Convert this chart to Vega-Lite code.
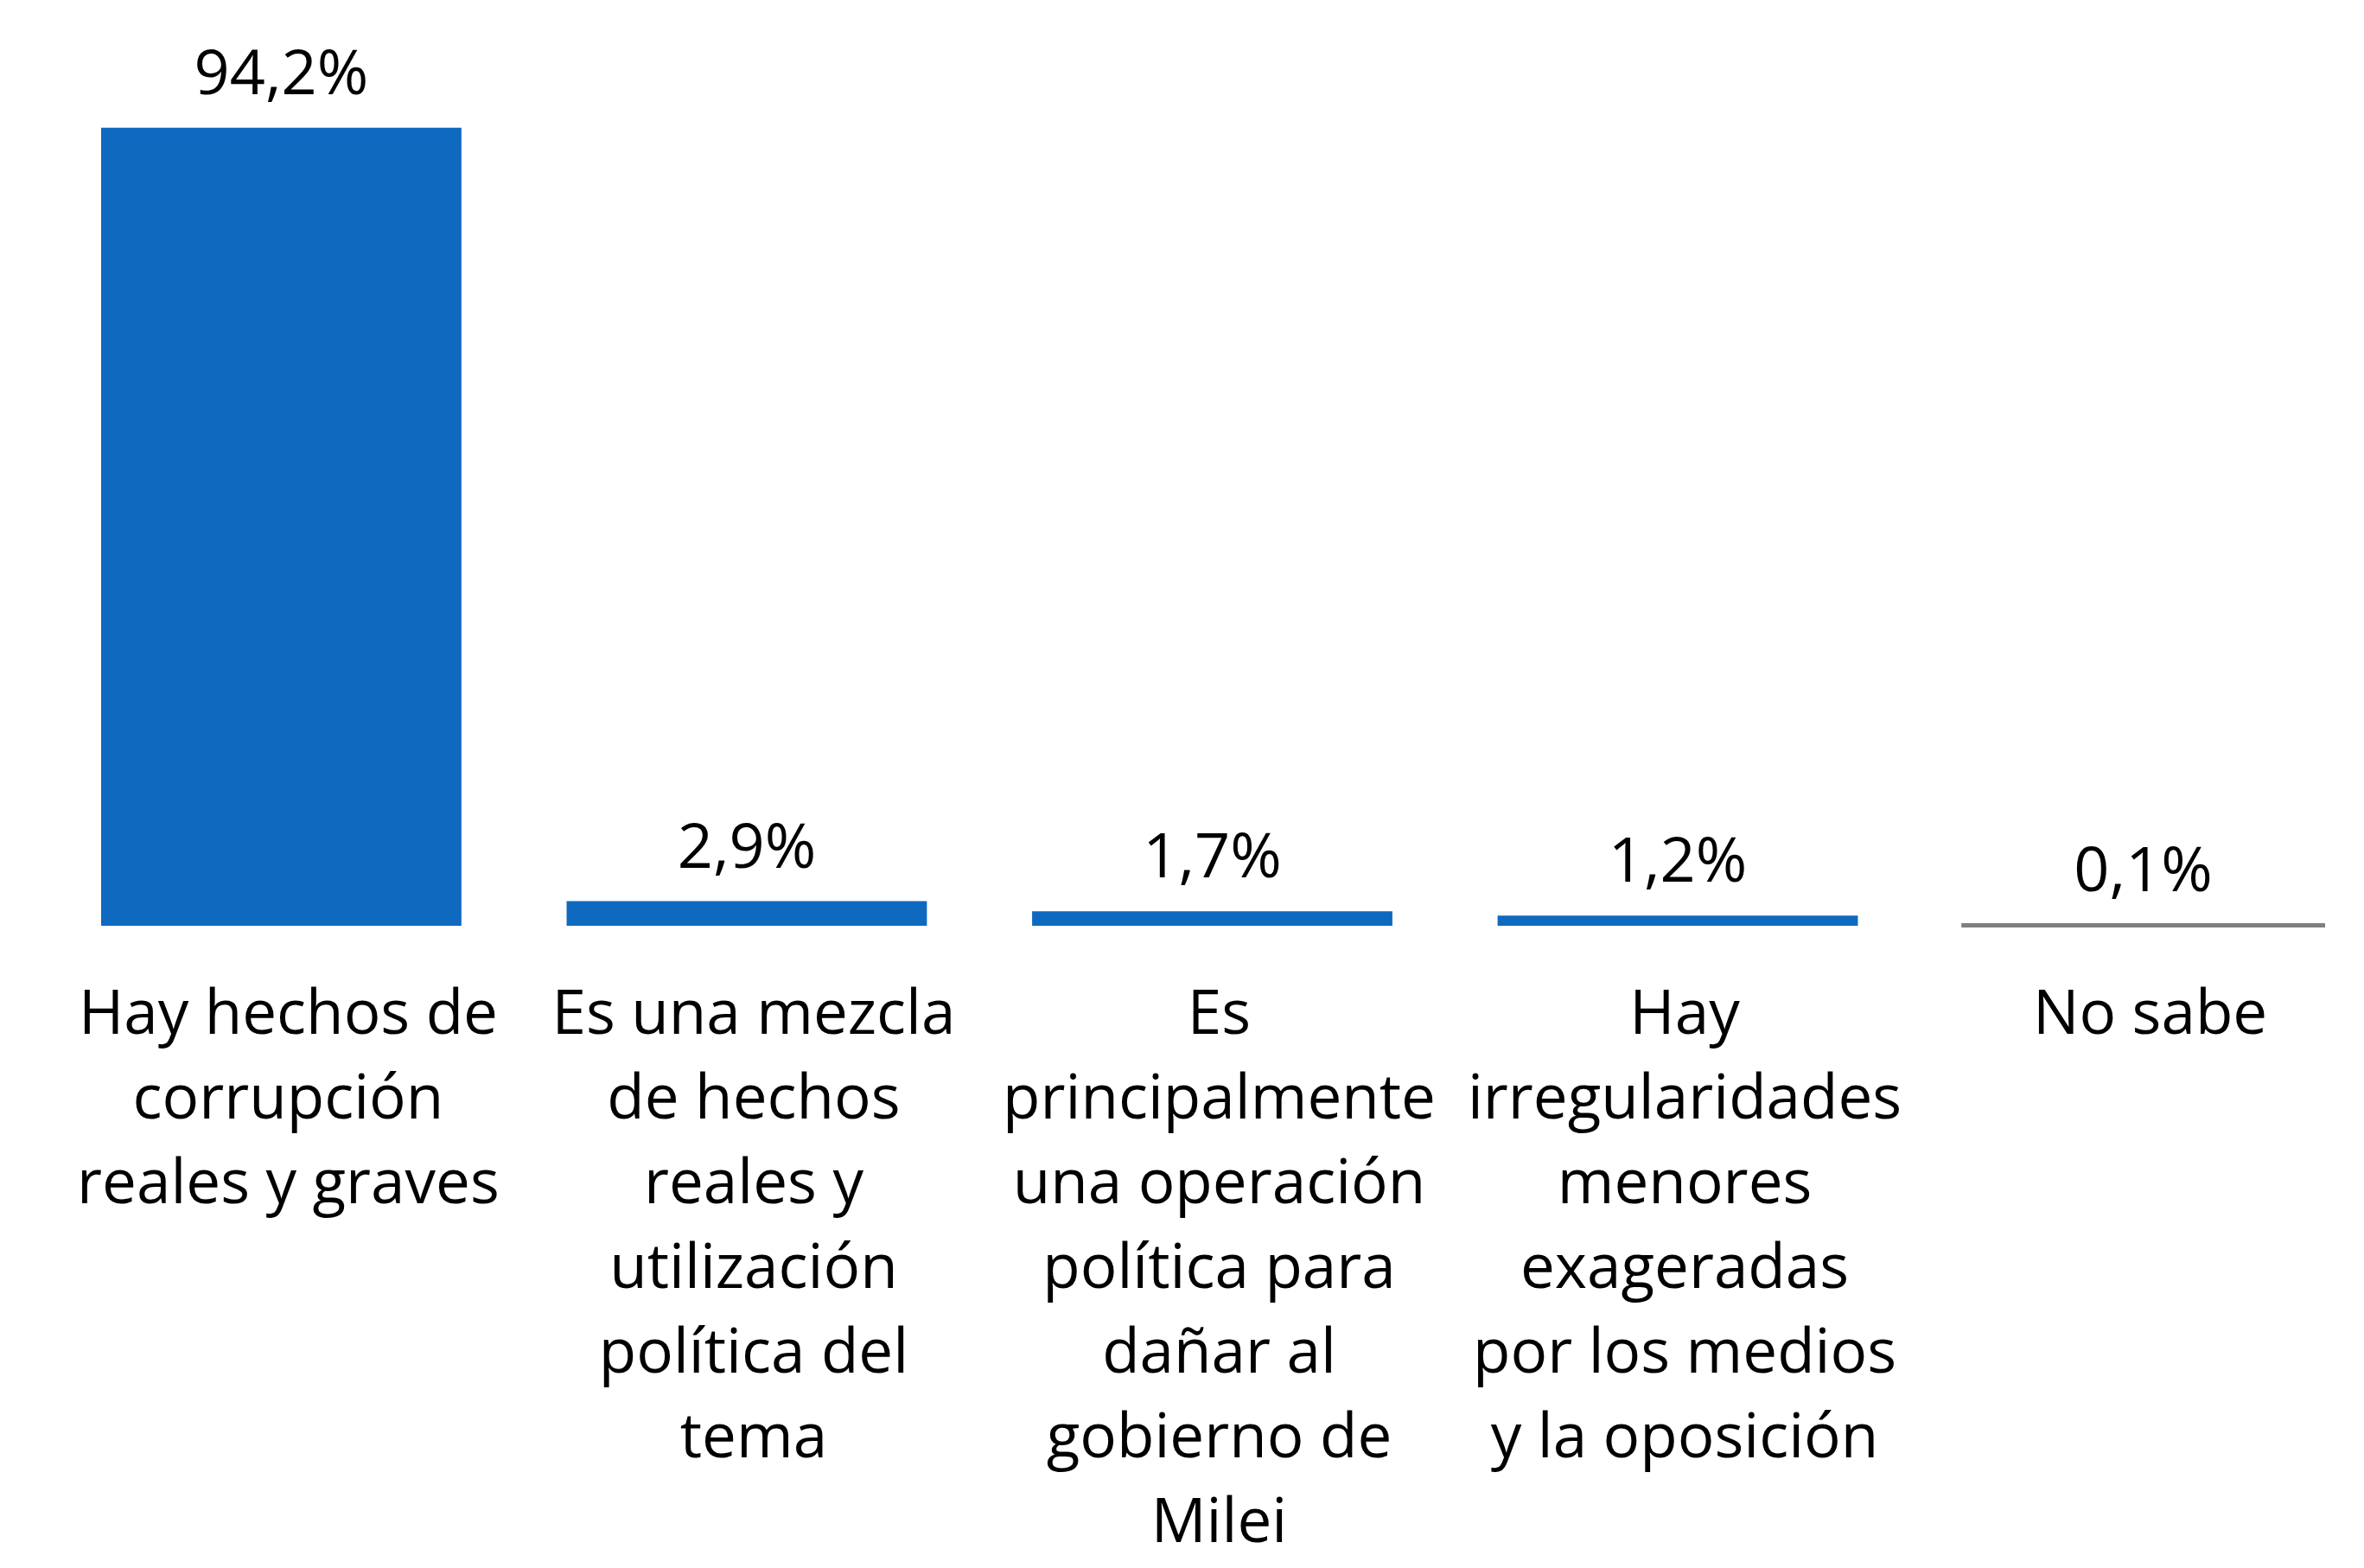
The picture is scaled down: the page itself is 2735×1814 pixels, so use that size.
{
  "$schema": "https://vega.github.io/schema/vega-lite/v6.json",
  "autosize": "none",
  "width": 2571,
  "height": 980,
  "padding": {"left": 117, "top": 91, "right": 47, "bottom": 743},
  "background": "white",
  "config": {"view": {"stroke": null}, "font": "Open Sans"},
  "data": {
    "values": [
      {"categoria": "Hay hechos de|corrupción|reales y graves", "valor": 94.2, "etiqueta": "94,2%"},
      {"categoria": "Es una mezcla|de hechos|reales y|utilización|política del|tema", "valor": 2.9, "etiqueta": "2,9%"},
      {"categoria": "Es|principalmente|una operación|política para|dañar al|gobierno de|Milei", "valor": 1.7, "etiqueta": "1,7%"},
      {"categoria": "Hay|irregularidades|menores|exageradas|por los medios|y la oposición", "valor": 1.2, "etiqueta": "1,2%"},
      {"categoria": "No sabe", "valor": 0.1, "etiqueta": "0,1%"}
    ]
  },
  "encoding": {
    "x": {
      "field": "categoria",
      "type": "nominal",
      "sort": null,
      "scale": {"paddingInner": 0.226, "paddingOuter": 0},
      "axis": {
        "title": null,
        "domain": false,
        "ticks": false,
        "labelAngle": 0,
        "labelExpr": "split(datum.label, '|')",
        "labelFontSize": 71,
        "labelLineHeight": 98,
        "labelColor": "#000000",
        "labelPadding": 68,
        "labelOffset": 8,
        "labelLimit": 0,
        "labelFont": "Open Sans"
      }
    },
    "y": {
      "field": "valor",
      "type": "quantitative",
      "scale": {"domain": [0, 100]},
      "axis": null
    }
  },
  "layer": [
    {
      "mark": {"type": "bar"},
      "encoding": {
        "color": {
          "condition": {"test": "datum.valor < 0.5", "value": "#7f7f7f"},
          "value": "#0f69bf"
        },
        "stroke": {
          "condition": {"test": "datum.valor < 0.5", "value": "#7f7f7f"},
          "value": "#0f69bf"
        },
        "strokeWidth": {
          "condition": {"test": "datum.valor < 0.5", "value": 4},
          "value": 0
        }
      }
    },
    {
      "mark": {"type": "text", "baseline": "alphabetic", "dy": -39, "fontSize": 72, "font": "Open Sans", "color": "#000000"},
      "encoding": {
        "text": {"field": "etiqueta"}
      }
    }
  ]
}
